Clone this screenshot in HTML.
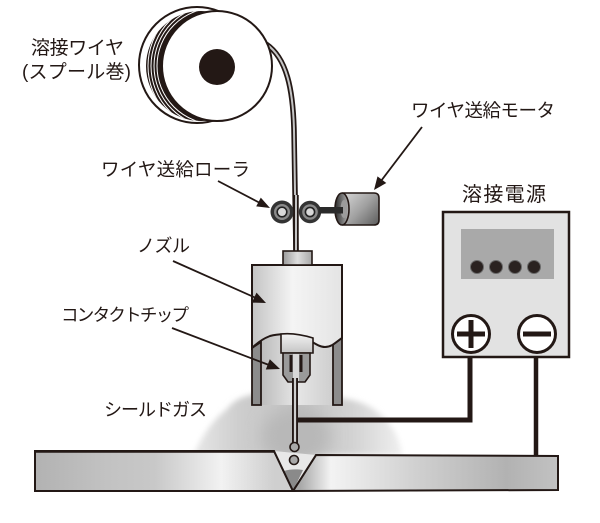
<!DOCTYPE html>
<html><head><meta charset="utf-8">
<style>
html,body{margin:0;padding:0;background:#fff;}
svg{display:block;}
text{font-family:"Liberation Sans","Noto Sans CJK JP",sans-serif;fill:#231815;}
</style></head><body>
<svg width="600" height="523" viewBox="0 0 600 523" xmlns="http://www.w3.org/2000/svg">
<defs>
  <filter id="b3" x="-50%" y="-50%" width="200%" height="200%"><feGaussianBlur stdDeviation="3"/></filter>
  <filter id="b8" x="-50%" y="-50%" width="200%" height="200%"><feGaussianBlur stdDeviation="8"/></filter>
  <linearGradient id="plateL" x1="35" y1="0" x2="274" y2="0" gradientUnits="userSpaceOnUse">
    <stop offset="0" stop-color="#b2b2b2"/><stop offset="0.3" stop-color="#c2c2c2"/>
    <stop offset="0.5" stop-color="#c8c8c8"/><stop offset="0.78" stop-color="#f2f2f2"/>
    <stop offset="1" stop-color="#cfcfcf"/>
  </linearGradient>
  <linearGradient id="plateR" x1="300" y1="0" x2="558" y2="0" gradientUnits="userSpaceOnUse">
    <stop offset="0" stop-color="#a8a8a8"/><stop offset="0.12" stop-color="#f3f3f3"/>
    <stop offset="0.45" stop-color="#d0d0d0"/><stop offset="0.8" stop-color="#b2b2b2"/>
    <stop offset="1" stop-color="#c2c2c2"/>
  </linearGradient>
  <linearGradient id="nozzle" x1="252" y1="0" x2="342" y2="0" gradientUnits="userSpaceOnUse">
    <stop offset="0" stop-color="#c4c4c4"/><stop offset="0.45" stop-color="#f4f4f4"/>
    <stop offset="1" stop-color="#e4e4e4"/>
  </linearGradient>
  <linearGradient id="inner" x1="261" y1="0" x2="332" y2="0" gradientUnits="userSpaceOnUse">
    <stop offset="0" stop-color="#bcbcbc"/><stop offset="0.5" stop-color="#e6e6e6"/>
    <stop offset="1" stop-color="#cfcfcf"/>
  </linearGradient>
  <linearGradient id="conn" x1="283" y1="0" x2="312" y2="0" gradientUnits="userSpaceOnUse">
    <stop offset="0" stop-color="#9a9a9a"/><stop offset="0.5" stop-color="#dedede"/>
    <stop offset="1" stop-color="#a8a8a8"/>
  </linearGradient>
  <linearGradient id="holder" x1="0" y1="334" x2="0" y2="353" gradientUnits="userSpaceOnUse">
    <stop offset="0" stop-color="#f2f2f2"/><stop offset="1" stop-color="#c4c4c4"/>
  </linearGradient>
  <linearGradient id="motor" x1="345" y1="193" x2="379" y2="225" gradientUnits="userSpaceOnUse">
    <stop offset="0" stop-color="#d4d4d4"/><stop offset="0.5" stop-color="#a0a0a0"/>
    <stop offset="1" stop-color="#5c5c5c"/>
  </linearGradient>
  <linearGradient id="face" x1="335" y1="0" x2="349" y2="0" gradientUnits="userSpaceOnUse">
    <stop offset="0" stop-color="#2a2a2a"/><stop offset="1" stop-color="#b8b8b8"/>
  </linearGradient>
  <linearGradient id="gas" x1="200" y1="0" x2="402" y2="0" gradientUnits="userSpaceOnUse">
    <stop offset="0" stop-color="#e4e4e4"/><stop offset="0.2" stop-color="#cdcdcd"/>
    <stop offset="0.5" stop-color="#c2c2c2"/><stop offset="0.75" stop-color="#d2d2d2"/>
    <stop offset="1" stop-color="#efefef"/>
  </linearGradient>
  <clipPath id="coilClip"><circle cx="201" cy="66" r="55"/></clipPath>
</defs>

<!-- shield gas -->
<path d="M226 410 C234 399 246 395 258 394 L340 398 C358 400 372 406 382 416 C395 428 400 442 402 455 L194 455 C200 440 212 420 226 410 Z" fill="url(#gas)" filter="url(#b3)"/>
<ellipse cx="296" cy="436" rx="34" ry="28" fill="#b8b8b8" filter="url(#b8)"/>

<!-- plate -->
<path d="M35 451 L274 451 L293 491 L35 491 Z" fill="url(#plateL)" stroke="#231815" stroke-width="2"/>
<path d="M316 455 L558 456 L558 490 L293 491 Z" fill="url(#plateR)" stroke="#231815" stroke-width="2"/>
<path d="M274 451 L316 455 L293 491 Z" fill="#e8e8e8"/>
<path d="M284 471 C290 469 297 469 303 470 L293 491 Z" fill="#8a8a8a"/>
<path d="M274 451 L293 491 L316 455" fill="none" stroke="#231815" stroke-width="2" stroke-linejoin="round"/>
<line x1="35" y1="451.5" x2="274" y2="451.5" stroke="#231815" stroke-width="2.5"/>

<!-- nozzle interior -->
<rect x="258" y="334" width="78" height="71" fill="url(#inner)"/>
<!-- walls -->
<path d="M252 348 L261 342 L261 405 L252 405 Z" fill="#8c8c8c" stroke="#231815" stroke-width="1.8"/>
<path d="M333 344 L342 338 L342 405 L333 405 Z" fill="#8c8c8c" stroke="#231815" stroke-width="1.8"/>
<!-- nozzle body -->
<path d="M252 265 L342 265 L342 338 C336 342 332 347 325 347 C317 347 310 339 300 336 C290 334 280 333 270 336 C262 339 256 344 252 348 Z" fill="url(#nozzle)" stroke="#231815" stroke-width="2"/>
<!-- holder -->
<path d="M281 334 C290 333 300 334 313 338 L313 353 L281 353 Z" fill="url(#holder)" stroke="#231815" stroke-width="1.6"/>
<!-- tip -->
<path d="M283 353 L310 353 L310 375 L305 382 L288 382 L283 375 Z" fill="#9a9a9a" stroke="#231815" stroke-width="1.6"/>
<rect x="293" y="354" width="6" height="27" fill="#d8d8d8"/>
<rect x="289.5" y="355" width="3" height="17" fill="#231815"/>
<rect x="299.5" y="355" width="3" height="17" fill="#231815"/>

<!-- lower wire -->
<line x1="295" y1="378" x2="295" y2="444" stroke="#231815" stroke-width="6"/>
<line x1="295" y1="378" x2="295" y2="444" stroke="#cfcfcf" stroke-width="2.2"/>
<circle cx="294.5" cy="447" r="4.5" fill="#a8a8a8" stroke="#231815" stroke-width="1.6"/>
<circle cx="294" cy="460" r="4.5" fill="#a8a8a8" stroke="#231815" stroke-width="1.6"/>

<!-- power cables -->
<path d="M470 352 L470 420 L298 420" fill="none" stroke="#231815" stroke-width="5" stroke-linejoin="miter"/>
<line x1="536" y1="352" x2="536" y2="456" stroke="#231815" stroke-width="4.5"/>

<!-- spool -->
<circle cx="197" cy="65" r="58" fill="#fff" stroke="#231815" stroke-width="2"/>
<circle cx="201" cy="66" r="55" fill="#231815"/>
<g clip-path="url(#coilClip)" fill="none" stroke="#fff" stroke-width="1">
  <path d="M215 8 A58 58 0 0 0 215 124"/>
  <path d="M215 5 A61 61 0 0 0 215 127"/>
  <path d="M215 2 A64 64 0 0 0 215 130"/>
  <path d="M215 -1 A67 67 0 0 0 215 133"/>
</g>
<!-- upper wire -->
<path d="M266 44 C287 58 293 90 294 130 L296 252" fill="none" stroke="#231815" stroke-width="5.5"/>
<path d="M266 44 C287 58 293 90 294 130 L296 252" fill="none" stroke="#c4c4c4" stroke-width="2"/>
<circle cx="217" cy="66" r="55" fill="#fff" stroke="#231815" stroke-width="2"/>
<circle cx="217" cy="67" r="18" fill="#231815"/>

<!-- rollers -->
<circle cx="282" cy="212" r="11.5" fill="#333"/>
<circle cx="282" cy="212" r="8" fill="#8a8a8a"/>
<circle cx="282" cy="212" r="4.8" fill="#d8d8d8" stroke="#222" stroke-width="1.6"/>
<circle cx="310" cy="212" r="11.2" fill="#333"/>
<circle cx="310" cy="212" r="7.8" fill="#8a8a8a"/>
<circle cx="310" cy="212" r="4.6" fill="#d8d8d8" stroke="#222" stroke-width="1.6"/>
<line x1="296" y1="195" x2="296" y2="252" stroke="#231815" stroke-width="5.5"/>
<line x1="296" y1="195" x2="296" y2="252" stroke="#c4c4c4" stroke-width="2"/>

<!-- motor -->
<path d="M343 193 L374 193 Q379 193 379 198 L379 220 Q379 225 374 225 L343 225 Z" fill="url(#motor)" stroke="#231815" stroke-width="1.6"/>
<ellipse cx="342" cy="209" rx="7" ry="16" fill="url(#face)" stroke="#231815" stroke-width="1.6"/>
<ellipse cx="344" cy="209" rx="3.5" ry="9" fill="#9c9c9c"/>
<rect x="319" y="207" width="24" height="6.5" fill="#2a2a2a"/>

<!-- connector -->
<rect x="283" y="251" width="29" height="14" fill="url(#conn)" stroke="#231815" stroke-width="1.6"/>

<!-- power supply -->
<rect x="443" y="212" width="126" height="145" fill="#e2e2e2" stroke="#231815" stroke-width="2.5"/>
<rect x="461" y="229" width="93" height="50" fill="#a9a9a9"/>
<g fill="#2a2220" stroke="#6a6a6a" stroke-width="1">
  <circle cx="477" cy="267" r="6.5"/><circle cx="496" cy="267" r="6.5"/>
  <circle cx="515" cy="267" r="6.5"/><circle cx="534" cy="267" r="6.5"/>
</g>
<circle cx="471" cy="334" r="18.5" fill="#fff" stroke="#231815" stroke-width="3"/>
<rect x="457" y="331.5" width="28" height="5" fill="#231815"/>
<rect x="468.5" y="320" width="5" height="28" fill="#231815"/>
<circle cx="537" cy="334" r="18.5" fill="#fff" stroke="#231815" stroke-width="3"/>
<rect x="523" y="331.5" width="28" height="5" fill="#231815"/>

<!-- arrows -->
<g stroke="#231815" stroke-width="1.8" fill="none">
  <line x1="218" y1="181" x2="260" y2="203"/>
  <line x1="422" y1="127" x2="381" y2="181"/>
  <line x1="173" y1="261" x2="256" y2="298"/>
  <line x1="172" y1="328" x2="269" y2="365"/>
</g>
<g fill="#231815">
  <polygon points="270,208 256.2,206.4 260.8,197.6"/>
  <polygon points="374,190 386.3,183 377.5,176.4"/>
  <polygon points="266,303 251.9,302.6 256.5,292.6"/>
  <polygon points="280,369 265.8,369.5 269.8,359.3"/>
</g>

<!-- labels -->
<text x="31" y="54" font-size="19" textLength="93">溶接ワイヤ</text>
<text x="22" y="78" font-size="19" textLength="109">(スプール巻)</text>
<text x="101" y="176" font-size="18.5" textLength="149">ワイヤ送給ローラ</text>
<text x="411" y="117" font-size="18.5" textLength="144">ワイヤ送給モータ</text>
<text x="462" y="201" font-size="20" textLength="84">溶接電源</text>
<text x="137" y="252" font-size="18" textLength="53">ノズル</text>
<text x="61" y="321" font-size="17.5" textLength="128">コンタクトチップ</text>
<text x="104" y="416" font-size="18" textLength="103">シールドガス</text>
</svg>
</body></html>
